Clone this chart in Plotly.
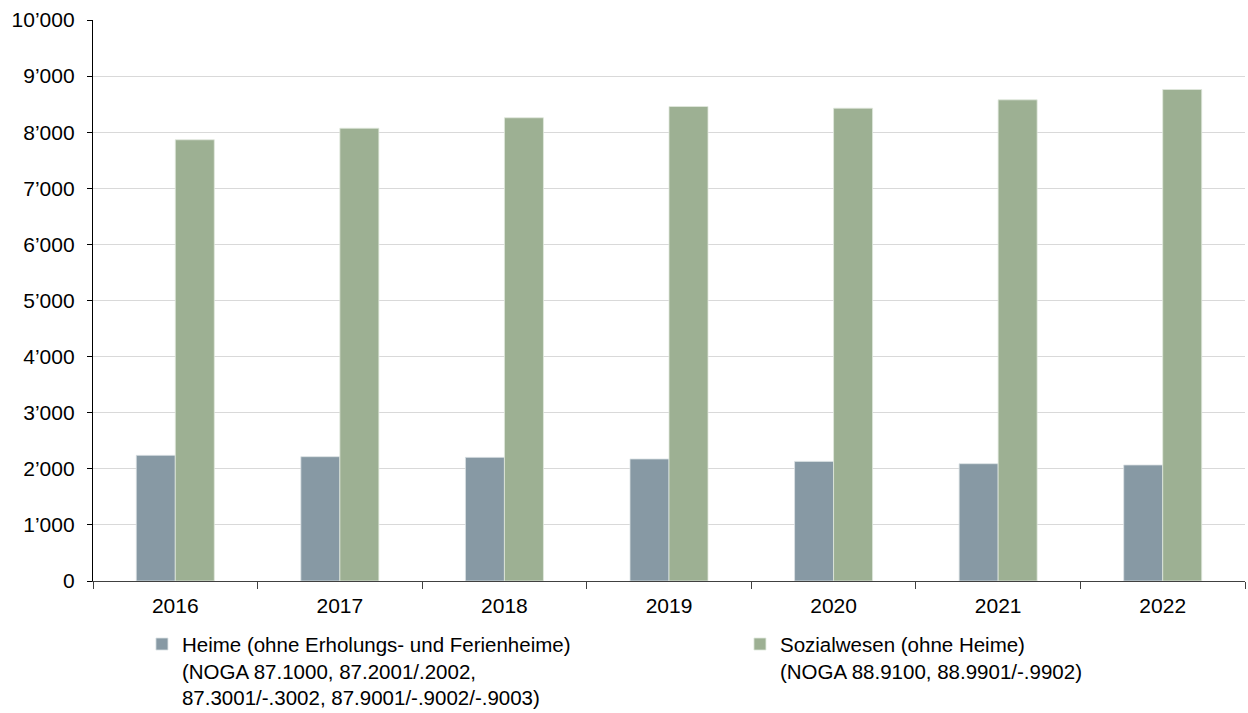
import plotly.graph_objects as go

years = ["2016", "2017", "2018", "2019", "2020", "2021", "2022"]
heime = [2240, 2216, 2204, 2175, 2132, 2091, 2068]
sozialwesen = [7865, 8071, 8257, 8458, 8428, 8577, 8761]

heime_name = ("Heime (ohne Erholungs- und Ferienheime)<br>"
              "(NOGA 87.1000, 87.2001/.2002,<br>"
              "87.3001/-.3002, 87.9001/-.9002/-.9003)")
sozial_name = ("Sozialwesen (ohne Heime)<br>"
               "(NOGA 88.9100, 88.9901/-.9902)")

y_ticks = [0, 1000, 2000, 3000, 4000, 5000, 6000, 7000, 8000, 9000, 10000]
y_labels = ["0", "1\u2019000", "2\u2019000", "3\u2019000", "4\u2019000", "5\u2019000",
            "6\u2019000", "7\u2019000", "8\u2019000", "9\u2019000", "10\u2019000"]

fig = go.Figure()
fig.add_trace(go.Bar(
    x=years, y=heime, name=heime_name, legend="legend",
    marker=dict(color="#8799A4", line=dict(color="#DCE2E5", width=0.8)),
))
fig.add_trace(go.Bar(
    x=years, y=sozialwesen, name=sozial_name, legend="legend2",
    marker=dict(color="#9DB093", line=dict(color="#E1E8DD", width=0.8)),
))

legend_common = dict(
    orientation="v", xanchor="left", yanchor="top",
    valign="top", font=dict(size=20.5), itemwidth=30,
    bgcolor="rgba(0,0,0,0)",
)

fig.update_layout(
    width=1248, height=713,
    margin=dict(l=93, r=3, t=20, b=132, autoexpand=False),
    paper_bgcolor="white", plot_bgcolor="white",
    font=dict(family="Liberation Sans, Arial, sans-serif", size=21, color="#000000"),
    barmode="group",
    bargap=0.526, bargroupgap=0,
    showlegend=True,
    legend=dict(x=0.0425, y=-0.077, **legend_common),
    legend2=dict(x=0.5616, y=-0.077, **legend_common),
)
fig.update_xaxes(
    type="category",
    showline=True, linecolor="#404040", linewidth=1.3,
    ticks="outside", tickson="boundaries", ticklen=7, tickcolor="#404040",
    showgrid=False,
    ticklabelstandoff=6,
)
fig.update_yaxes(
    range=[0, 10000],
    tickvals=y_ticks, ticktext=y_labels,
    showline=True, linecolor="#000000", linewidth=1.3,
    ticks="outside", ticklen=5, tickcolor="#000000",
    showgrid=True, gridcolor="#D9D9D9", gridwidth=1.3,
    zeroline=False,
    ticklabelstandoff=8,
)

fig.write_html("out.html")
